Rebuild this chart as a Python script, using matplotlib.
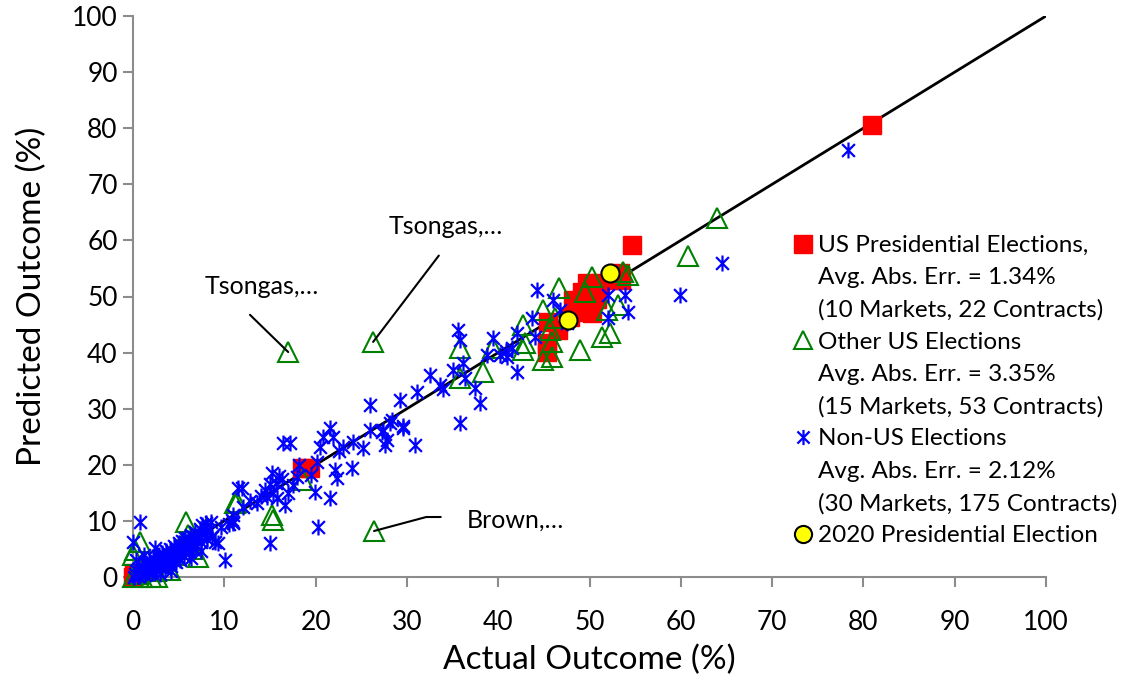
import numpy as np
import matplotlib
matplotlib.use("Agg")
import matplotlib.pyplot as plt
from matplotlib.lines import Line2D
from matplotlib.path import Path

plt.rcParams['font.family'] = ['Lato', 'DejaVu Sans']

# US presidential elections (red squares)
red_x = [0, 0.3, 0.1, 18.5, 19.4, 45.3, 45.3, 45.5, 47.9, 48.2, 49.2, 49.7, 49.8,
         50.3, 51.1, 52.2, 53.3, 54.7, 80.9, 46.5, 50.8, 53.5]
red_y = [0, 0.3, 0.8, 19.4, 19.4, 40.1, 41.7, 45.5, 46.3, 49.4, 50.8, 52.4, 47.2,
         47.1, 52.4, 52.9, 54.2, 59.2, 80.6, 44.0, 49.5, 53.0]

# other US elections (green triangles)
green_x = [17.0, 26.3, 26.4, 64.0, 60.8, 53.7, 54.2, 53.1, 51.9, 51.4, 52.2, 49.0,
           45.9, 45.9, 45.7, 46.2, 44.9, 46.7, 49.5, 50.3, 42.9, 35.8, 38.3, 35.8,
           42.7, 39.4, 42.7, 44.9, 15.3, 11.4, 18.6, 15.2, 5.8, 0.8, 0.0, 7.1,
           2.6, 2.0, 1.0, 0.5, 0.0, 0.2, 1.5, 2.5, 4.5, 6.0, 5.2, 3.5, 8.0, 11.2,
           4.0, 6.5]
green_y = [40.1, 41.9, 8.2, 64.0, 57.2, 54.4, 53.8, 48.5, 47.6, 42.8, 43.5, 40.5,
           39.2, 41.9, 44.0, 46.2, 47.6, 51.5, 50.8, 53.5, 41.7, 40.8, 36.5, 35.5,
           44.9, 40.8, 40.5, 38.7, 10.2, 13.4, 17.3, 11.0, 9.8, 6.2, 3.9, 3.6,
           0.0, 0.0, 0.0, 0.5, 0.0, 4.8, 1.5, 1.0, 4.0, 7.5, 5.6, 2.8, 8.6, 13.2,
           1.2, 5.0]

# non-US elections (blue asterisks)
blue_x = [78.3, 64.5, 59.9, 54.2, 53.9, 52.0, 52.0, 46.8, 46.0, 44.2, 43.7, 44.0,
          42.1, 35.6, 35.8, 39.4, 40.2, 41.0, 41.5, 42.1, 36.1, 35.0, 36.4, 37.5,
          38.0, 35.8, 32.5, 33.6, 33.9, 31.1, 29.2, 28.1, 29.6, 30.9, 27.6, 26.0,
          27.4, 40.8, 47.5, 38.8,
          16.4, 17.2, 21.6, 20.8, 21.9, 20.5, 23.0, 24.1, 26.0, 27.3, 27.8, 28.4,
          29.6, 24.0, 22.1, 22.3, 19.9, 21.6, 20.3, 15.2, 15.7, 15.3, 14.7, 16.6,
          13.6, 11.5, 11.0, 11.0, 17.5, 18.0, 19.5, 18.2, 20.2, 16.3, 15.0, 14.5,
          15.8, 16.0, 14.0, 12.0, 10.8, 10.5, 12.8, 17.0, 15.0, 11.9, 22.6, 25.2,
          0.2, 0.4, 0.5, 0.7, 0.9, 1.0, 1.1, 1.3, 1.4, 1.5, 1.6, 1.8, 1.9, 2.0,
          2.1, 2.2, 2.3, 2.5, 2.6, 2.7, 2.8, 3.0, 3.1, 3.2, 3.3, 3.4, 3.5, 3.6,
          3.7, 3.8, 3.9, 4.0, 4.1, 4.2, 4.3, 4.4, 4.5, 4.6, 4.7, 4.8, 4.9, 5.0,
          5.1, 5.2, 5.3, 5.4, 5.5, 5.6, 5.8, 5.9, 6.0, 6.1, 6.2, 6.3, 6.4, 6.5,
          6.6, 6.8, 6.9, 7.0, 7.2, 7.3, 7.4, 7.5, 7.6, 7.8, 8.0, 8.1, 8.3, 8.5,
          8.7, 9.0, 9.3, 10.1, 11.0, 0.8, 0.0, 0.3, 1.2, 2.4, 3.0, 4.2, 0.1, 0.6,
          1.7, 2.9, 5.7, 6.7, 7.9, 9.6]
blue_y = [76.1, 56.0, 50.3, 47.2, 50.3, 50.3, 46.2, 47.6, 49.4, 51.2, 46.2, 42.8,
          43.5, 44.0, 42.2, 42.6, 39.6, 39.2, 40.8, 36.5, 38.1, 36.9, 35.5, 33.7,
          31.0, 27.5, 36.0, 34.2, 33.6, 33.0, 31.5, 27.4, 26.6, 23.5, 23.5, 30.7,
          26.2, 40.2, 45.3, 39.5,
          23.9, 23.9, 26.6, 25.0, 25.0, 23.2, 23.2, 24.1, 26.2, 25.8, 24.4, 28.0,
          26.9, 19.4, 19.1, 17.6, 15.2, 14.1, 8.9, 18.5, 16.8, 15.0, 14.3, 12.8,
          13.2, 15.9, 11.0, 9.6, 16.4, 17.8, 18.2, 19.9, 20.5, 17.4, 16.5, 15.5,
          14.0, 18.0, 14.5, 12.5, 10.2, 9.5, 13.5, 15.0, 6.0, 15.9, 22.5, 23.0,
          0.5, 1.0, 0.2, 1.5, 0.6, 2.0, 1.2, 0.4, 2.5, 1.0, 1.8, 3.0, 1.4, 2.2,
          0.8, 3.4, 1.9, 2.6, 1.2, 3.8, 2.2, 3.0, 1.8, 4.2, 2.7, 3.5, 1.5, 4.6,
          3.1, 2.4, 4.0, 5.0, 3.5, 2.0, 4.5, 3.0, 5.5, 4.0, 2.6, 5.0, 3.6, 6.0,
          4.4, 3.0, 5.4, 6.5, 4.8, 3.8, 6.0, 5.2, 7.0, 4.4, 5.8, 7.5, 3.4, 6.4,
          5.0, 8.0, 6.8, 5.6, 7.4, 8.6, 4.6, 6.2, 9.2, 7.8, 9.6, 6.8, 8.4, 9.8,
          7.2, 6.2, 6.1, 3.0, 9.8, 9.8, 6.2, 3.0, 4.0, 5.2, 0.5, 1.0, 0.0, 0.1,
          0.9, 3.9, 7.0, 6.0, 8.8, 9.0]

# 2020 presidential election (yellow circles)
yellow_x = [47.6, 52.2]
yellow_y = [45.8, 54.2]

legend_lines = [
    "US Presidential Elections,", "Avg. Abs. Err. = 1.34%", "(10 Markets, 22 Contracts)",
    "Other US Elections", "Avg. Abs. Err. = 3.35%", "(15 Markets, 53 Contracts)",
    "Non-US Elections", "Avg. Abs. Err. = 2.12%", "(30 Markets, 175 Contracts)",
    "2020 Presidential Election",
]

# excel-like star marker: vertical bar plus an X
star = Path([(0, -1), (0, 1), (-0.8, -0.8), (0.8, 0.8), (-0.8, 0.8), (0.8, -0.8)],
            [Path.MOVETO, Path.LINETO] * 3)

fig = plt.figure(figsize=(11.24, 6.81), dpi=100)
ax = fig.add_axes([133 / 1124, 1 - 577 / 681, 913 / 1124, 561 / 681])

ax.plot([0, 100], [0, 100], color='black', lw=2, zorder=1)

sq = dict(linestyle='none', marker='s', markersize=13.5, color='#ff0000', clip_on=False)
tri = dict(linestyle='none', marker='^', markersize=14, markerfacecolor='none',
           markeredgecolor='#008000', markeredgewidth=1.5, clip_on=False)
ast = dict(linestyle='none', marker=star, markersize=11.5, markerfacecolor='none',
           markeredgecolor='#0000ff', markeredgewidth=1.6, clip_on=False)
circ = dict(linestyle='none', marker='o', markersize=13, markerfacecolor='#ffff00',
            markeredgecolor='black', markeredgewidth=1.5, clip_on=False)

ax.plot(red_x, red_y, zorder=2, **sq)
ax.plot(green_x, green_y, zorder=3, **tri)
ax.plot(blue_x, blue_y, zorder=4, **ast)
ax.plot(yellow_x, yellow_y, zorder=5, **circ)

# annotations
fs = 18
ax.annotate("Tsongas,…", xy=(17.0, 40.1), xytext=(14.1, 51.7), ha='center', va='center',
            fontsize=fs, arrowprops=dict(arrowstyle='-', lw=1.5, color='black',
                                         relpos=(0.25, 0), shrinkA=14, shrinkB=0))
ax.annotate("Tsongas,…", xy=(26.3, 41.9), xytext=(34.3, 62.4), ha='center', va='center',
            fontsize=fs, arrowprops=dict(arrowstyle='-', lw=1.5, color='black',
                                         relpos=(0.55, 0), shrinkA=13, shrinkB=0))
ax.annotate("Brown,…", xy=(26.4, 8.2), xytext=(36.6, 10.2), ha='left', va='center',
            fontsize=fs, arrowprops=dict(arrowstyle='-', lw=1.5, color='black',
                                         relpos=(0, 0.62), shrinkA=17, shrinkB=0,
                                         connectionstyle='angle,angleA=0,angleB=15'))

ax.set_xlim(0, 100)
ax.set_ylim(0, 100)
ax.set_xticks(np.arange(0, 101, 10))
ax.set_yticks(np.arange(0, 101, 10))
for s in ['top', 'right']:
    ax.spines[s].set_visible(False)
for s in ['left', 'bottom']:
    ax.spines[s].set_color('#8c8c8c')
    ax.spines[s].set_linewidth(1.5)
ax.tick_params(direction='out', length=7, width=1.5, color='#8c8c8c', labelsize=19)
ax.tick_params(axis='x', pad=16.5)
ax.tick_params(axis='y', pad=4)
ax.set_xlabel("Actual Outcome (%)", fontsize=24, labelpad=7)
ax.set_ylabel("Predicted Outcome (%)", fontsize=24, labelpad=18)

blank = Line2D([], [], linestyle='none')
handles = [Line2D([], [], **sq), blank, blank,
           Line2D([], [], **tri), blank, blank,
           Line2D([], [], **ast), blank, blank,
           Line2D([], [], **circ)]
leg = ax.legend(handles, legend_lines, loc='upper left',
                bbox_to_anchor=(795 / 1124, 1 - 235 / 681), bbox_transform=fig.transFigure,
                frameon=False, fontsize=17.5, handlelength=0.65, handletextpad=0.3,
                labelspacing=0.455, borderpad=0, borderaxespad=0, markerscale=0.95)

fig.savefig("out.png", dpi=100)
